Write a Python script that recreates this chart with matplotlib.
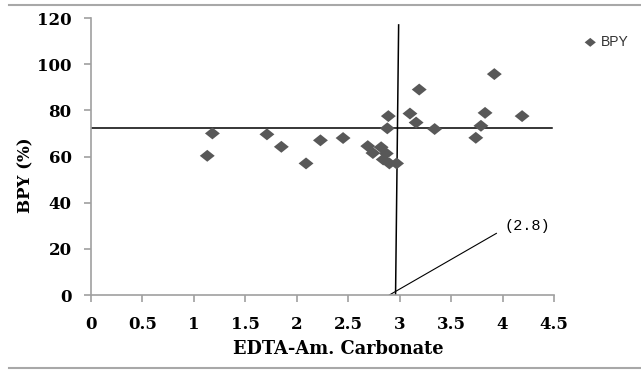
import matplotlib
matplotlib.use("Agg")
import matplotlib.pyplot as plt
from matplotlib.lines import Line2D
from matplotlib.path import Path

# data
edta = [1.13, 1.18, 1.71, 1.85, 2.09, 2.23, 2.45, 2.69, 2.74, 2.82, 2.87, 2.84, 2.90, 2.97,
        2.89, 2.88, 3.10, 3.16, 3.19, 3.34, 3.74, 3.79, 3.83, 3.92, 4.19]
bpy = [60.3, 70.0, 69.6, 64.2, 57.0, 67.0, 68.0, 64.5, 61.5, 64.0, 61.3, 58.7, 57.0, 57.0,
       77.5, 72.2, 78.6, 74.7, 89.0, 71.9, 68.1, 73.3, 78.9, 95.7, 77.5]
hline_y = 72.3
vline_x = [2.99, 2.96]
vline_y = [117, 0]
lead_x = [2.90, 3.94]
lead_y = [0, 26.7]
annot_text = "(2.8)"
xticks = [0, 0.5, 1, 1.5, 2, 2.5, 3, 3.5, 4, 4.5]
yticks = [0, 20, 40, 60, 80, 100, 120]

fig = plt.figure(figsize=(6.41, 3.74), dpi=100)
ax = fig.add_axes([91/641, 1-295/374, (554-91)/641, (295-18)/374])

serif = "DejaVu Serif"
diamond = Path([(-1, 0), (0, 0.8), (1, 0), (0, -0.8), (-1, 0)],
               [Path.MOVETO, Path.LINETO, Path.LINETO, Path.LINETO, Path.CLOSEPOLY])
ax.scatter(edta, bpy, marker=diamond, s=115, color="#585858", edgecolors="none", zorder=3, label="BPY")
ax.plot([0, 4.48], [hline_y, hline_y], color="black", lw=1.1, zorder=2)
ax.plot(vline_x, vline_y, color="black", lw=1.1, zorder=2)
ax.plot(lead_x, lead_y, color="black", lw=0.8, zorder=2)
ax.text(4.24, 30, annot_text, fontfamily="Liberation Mono", fontsize=11, ha="center", va="center")

ax.set_xlim(0, 4.5)
ax.set_ylim(0, 120)
ax.set_xticks(xticks)
ax.set_xticklabels([f"{t:g}" for t in xticks])
ax.set_yticks(yticks)
for lab in ax.get_xticklabels() + ax.get_yticklabels():
    lab.set_fontfamily(serif)
    lab.set_fontweight("bold")
    lab.set_fontsize(12)
for s in ["top", "right"]:
    ax.spines[s].set_visible(False)
for s in ["left", "bottom"]:
    ax.spines[s].set_color("#a0a0a0")
    ax.spines[s].set_linewidth(1.2)
ax.tick_params(axis="x", direction="out", length=5, color="#a0a0a0", width=1.2, pad=10)
ax.tick_params(axis="y", direction="out", length=5, color="#a0a0a0", width=1.2, pad=9)
xl = ax.set_xlabel("EDTA-Am. Carbonate", fontfamily=serif, fontweight="bold", fontsize=12.8)
xl.set_va("center")
ax.xaxis.set_label_coords((338-91)/463, (295-349)/277)
yl = ax.set_ylabel("BPY (%)", fontfamily=serif, fontweight="bold", fontsize=12)
yl.set_va("center")
ax.yaxis.set_label_coords((26-91)/463, (295-175)/277)

leg = fig.legend(loc="center left", bbox_to_anchor=(584/641, 1-42/374), frameon=False,
                 prop={"family": "Liberation Sans", "size": 10}, handletextpad=0.3,
                 borderaxespad=0, borderpad=0, handlelength=0.9, markerscale=0.75)
for t in leg.get_texts():
    t.set_color("#333333")

fig.add_artist(Line2D([9/641, 1], [1-5/374, 1-5/374], color="#a8a8a8", lw=1.5))
fig.add_artist(Line2D([9/641, 1], [1-368/374, 1-368/374], color="#a8a8a8", lw=1.5))

fig.savefig("out.png", dpi=100)
